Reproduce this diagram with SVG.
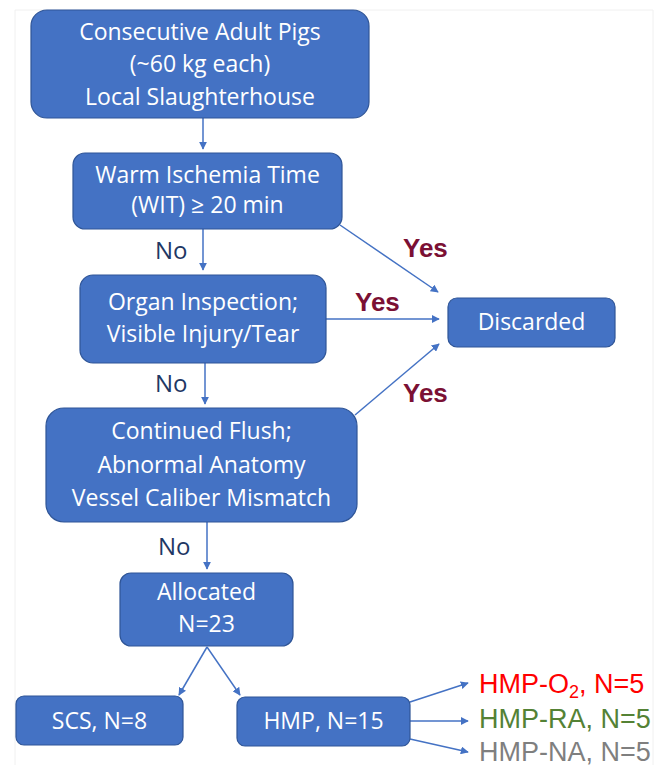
<svg xmlns="http://www.w3.org/2000/svg" width="664" height="765" viewBox="0 0 664 765">
<style>
.box{fill:#4472C4;stroke:#2F5597;stroke-width:1.2}
.bt{font-family:"Open Sans",Lato,"Liberation Sans",sans-serif;font-size:23px;font-weight:500;fill:#fff;text-anchor:middle}
.no{font-family:"Open Sans",Lato,"Liberation Sans",sans-serif;font-size:24px;font-weight:500;fill:#1F3864}
.yes{font-family:"Liberation Sans",Arial,sans-serif;font-size:26px;font-weight:bold;fill:#7B1034}
.out{font-family:"Liberation Sans",Arial,sans-serif;font-size:27px}
.c{stroke:#4472C4;stroke-width:1.5;fill:none;marker-end:url(#ah)}
</style>
<defs>
<marker id="ah" viewBox="0 0 10 10" refX="9" refY="5" markerWidth="8" markerHeight="8" markerUnits="userSpaceOnUse" orient="auto">
<path d="M0,0 L10,5 L0,10 z" fill="#4472C4"/>
</marker>
</defs>
<rect x="0" y="0" width="664" height="765" fill="#fff"/>
<path d="M15,765 V10 H653 V765" fill="none" stroke="#f0f0f0" stroke-width="1"/>
<g id="connectors">
<line class="c" x1="203" y1="118" x2="203" y2="149"/>
<line class="c" x1="203" y1="229" x2="203" y2="270"/>
<line class="c" x1="340" y1="225" x2="438" y2="292"/>
<line class="c" x1="326" y1="319" x2="439" y2="319"/>
<line class="c" x1="355" y1="415" x2="439" y2="344"/>
<line class="c" x1="205" y1="363" x2="205" y2="404"/>
<line class="c" x1="207" y1="522" x2="207" y2="569"/>
<line class="c" x1="207" y1="647" x2="179" y2="695"/>
<line class="c" x1="207" y1="647" x2="240" y2="695"/>
<line class="c" x1="410" y1="702" x2="468" y2="683"/>
<line class="c" x1="410" y1="721" x2="468" y2="721"/>
<line class="c" x1="410" y1="739" x2="468" y2="752"/>
</g>
<g id="labels">
<text class="no" x="155" y="259">No</text>
<text class="no" x="155" y="392">No</text>
<text class="no" x="158" y="555">No</text>
<text class="yes" x="403" y="257">Yes</text>
<text class="yes" x="355" y="311">Yes</text>
<text class="yes" x="403" y="402">Yes</text>
</g>
<g id="n1">
<rect class="box" x="31" y="10" width="338" height="108" rx="16"/>
<text class="bt" x="200" y="40">Consecutive Adult Pigs</text>
<text class="bt" x="200" y="72">(~60 kg each)</text>
<text class="bt" x="200" y="105">Local Slaughterhouse</text>
</g>
<g id="n2">
<rect class="box" x="73" y="153" width="269" height="76" rx="12"/>
<text class="bt" x="207.5" y="183">Warm Ischemia Time</text>
<text class="bt" x="207.5" y="213">(WIT) ≥ 20 min</text>
</g>
<g id="n3">
<rect class="box" x="80" y="275" width="246" height="88" rx="13"/>
<text class="bt" x="203" y="310">Organ Inspection;</text>
<text class="bt" x="203" y="342">Visible Injury/Tear</text>
</g>
<g id="n4">
<rect class="box" x="46" y="408" width="311" height="114" rx="18"/>
<text class="bt" x="201.5" y="439">Continued Flush;</text>
<text class="bt" x="201.5" y="473">Abnormal Anatomy</text>
<text class="bt" x="201.5" y="506">Vessel Caliber Mismatch</text>
</g>
<g id="discarded">
<rect class="box" x="448" y="298" width="167" height="49" rx="9"/>
<text class="bt" x="531.5" y="330">Discarded</text>
</g>
<g id="allocated">
<rect class="box" x="120" y="573" width="173" height="73" rx="11"/>
<text class="bt" x="206.5" y="600">Allocated</text>
<text class="bt" x="206.5" y="632">N=23</text>
</g>
<g id="scs">
<rect class="box" x="16" y="696" width="167" height="49" rx="8"/>
<text class="bt" x="99.5" y="729">SCS, N=8</text>
</g>
<g id="hmp">
<rect class="box" x="237" y="697" width="173" height="49" rx="8"/>
<text class="bt" x="323.5" y="729">HMP, N=15</text>
</g>
<g id="outcomes">
<text class="out" x="479" y="693" fill="#FF0000">HMP-O<tspan font-size="18" dy="5">2</tspan><tspan dy="-5">, N=5</tspan></text>
<text class="out" x="479" y="728" fill="#548235">HMP-RA, N=5</text>
<text class="out" x="479" y="761" fill="#7F7F7F">HMP-NA, N=5</text>
</g>
</svg>
